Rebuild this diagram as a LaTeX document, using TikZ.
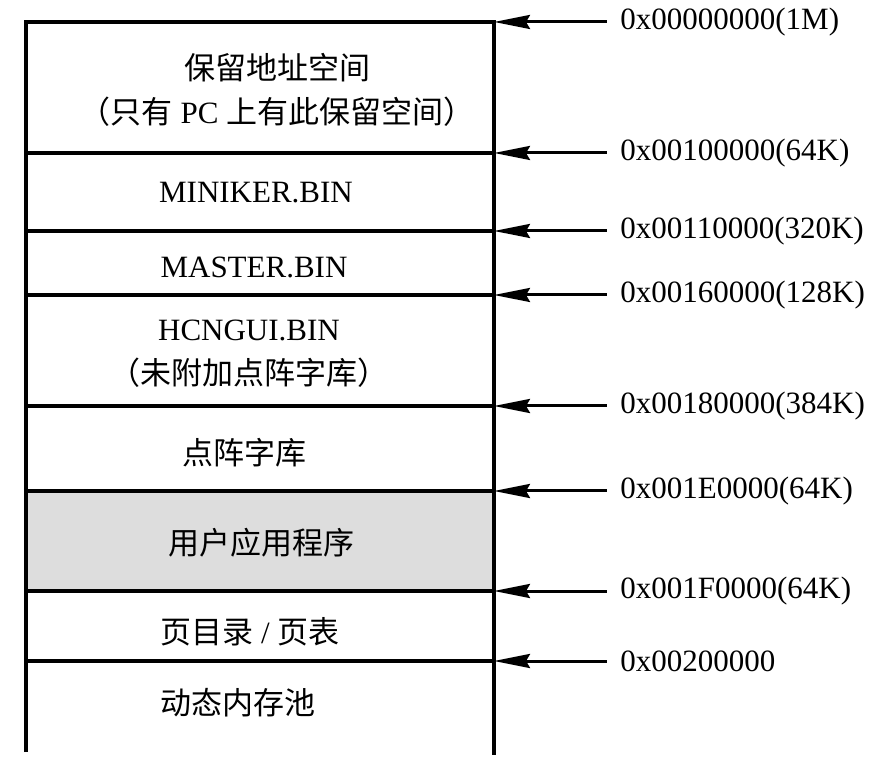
\documentclass[tikz,border=0pt]{standalone}
\usepackage{fontspec}
\setmainfont{Liberation Serif}
\newfontfamily\cjk{Noto Sans CJK SC}
\newcommand{\zh}[1]{{\cjk #1}}
\usetikzlibrary{arrows.meta,positioning}

\begin{document}
\begin{tikzpicture}[x=0.5pt,y=-0.5pt,
  every node/.style={font=\fontsize{15.5}{22}\selectfont, inner sep=0pt},
  wall/.style={line width=1.6pt},
  ptr/.style={line width=1.5pt, {Stealth[length=18pt,width=7pt,inset=2pt]}-},
  addr/.style={inner xsep=6.5pt},
  region/.style={align=center}]
  \useasboundingbox (0,0) rectangle (882,763);
  % user program area
  \fill[gray!27] (26,491) rectangle (494,591);
  % boundaries on the right edge
  \foreach \n/\y in {0/22,1/153,2/231,3/295,4/406,5/491,6/591,7/661}
    \coordinate (b\n) at (494,\y);
  \draw[wall] (26,752) -- (26,22) -- (b0) -- (494,755);
  \foreach \n in {1,...,7}
    \draw[wall] (b\n) -- ++(-468,0);
  % region texts
  \node[region] (r1) at (277,90) {\zh{保留地址空间}\\\zh{（只有} PC \zh{上有此保留空间）}};
  \node[region] (r2) at (256,193) {MINIKER.BIN};
  \node[region] (r3) at (254,267) {MASTER.BIN};
  \node[region] (r4) at (249,354) {HCNGUI.BIN\\\zh{（未附加点阵字库）}};
  \node[region] (r5) at (244,453) {\zh{点阵字库}};
  \node[region] (r6) at (261,543) {\zh{用户应用程序}};
  \node[region] (r7) at (250,632) {\zh{页目录} / \zh{页表}};
  \node[region] (r8) at (238,703) {\zh{动态内存池}};
  % addresses
  \foreach \n/\t in {0/0x00000000(1M),1/0x00100000(64K),2/0x00110000(320K),
      3/0x00160000(128K),4/0x00180000(384K),5/0x001E0000(64K),
      6/0x001F0000(64K),7/0x00200000} {
    \node[addr, right=56.5pt of b\n, anchor=west] (a\n) {\t};
    \draw[ptr] (b\n) -- (a\n);
  }
\end{tikzpicture}
\end{document}
